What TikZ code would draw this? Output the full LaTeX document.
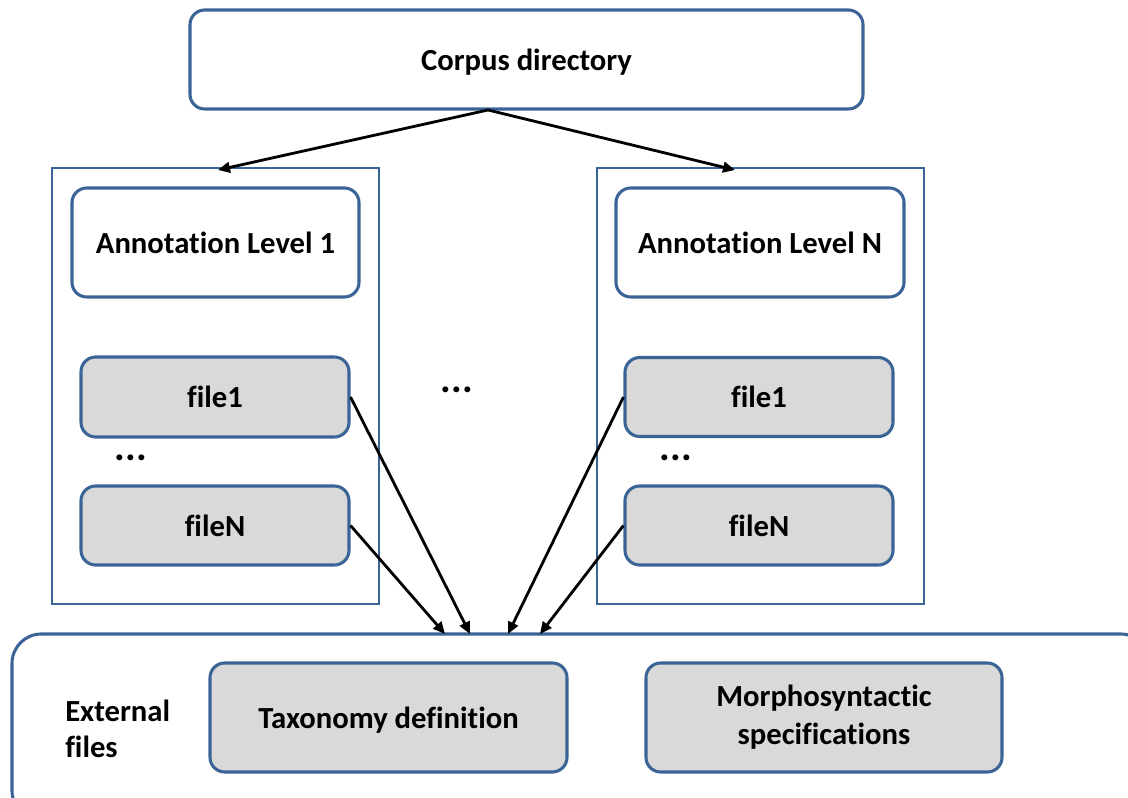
\documentclass[tikz,border=0pt]{standalone}
\usepackage{fontspec}
\setmainfont{Carlito}[Ligatures=NoCommon]
\usetikzlibrary{arrows.meta}
\definecolor{edge}{HTML}{3B6496}
\definecolor{shade}{HTML}{D9D9D9}
\tikzset{
  lbl/.style={font=\fontsize{23}{27}\selectfont\bfseries},
  rbox/.style={draw=edge, line width=2.3pt, rounded corners=11pt, fill=white,
    inner sep=0pt, align=center, text depth=0pt, lbl},
  filebox/.style={rbox, fill=shade},
  container/.style={draw=edge, line width=2.2pt, inner sep=0pt},
  link/.style={line width=2.1pt, -{Triangle[length=9pt,width=8pt]}},
  dots/.style={font=\fontsize{30}{30}\selectfont\bfseries}
}
\begin{document}
\begin{tikzpicture}[x=0.75pt, y=-0.75pt]
\useasboundingbox (0,0) rectangle (1128,798);

% corpus root
\node[rbox, minimum width=504.75pt, minimum height=74.25pt] (corpus) at (526.5,59.5) {Corpus directory};

% annotation level containers
\node[container, minimum width=245.25pt, minimum height=327pt] (lc) at (215.5,386) {};
\node[container, minimum width=245.25pt, minimum height=327pt] (rc) at (760.5,386) {};

\node[rbox, minimum width=215.25pt, minimum height=81.75pt] (al1) at (215.5,242.5) {Annotation Level 1};
\node[rbox, minimum width=216pt, minimum height=81.75pt] (aln) at (760,242.5) {Annotation Level N};

\node[filebox, minimum width=201pt, minimum height=60pt] (f1l) at (215,397) {file1};
\node[filebox, minimum width=201pt, minimum height=59.25pt] (fnl) at (215,525.5) {fileN};
\node[filebox, minimum width=201pt, minimum height=59.25pt] (f1r) at (759,397) {file1};
\node[filebox, minimum width=201pt, minimum height=59.25pt] (fnr) at (759,525.5) {fileN};

\node[dots] (d1) at (131,458) {...};
\node[dots] (d2) at (457,390) {...};
\node[dots] (d3) at (676,458) {...};

% external files
\node[rbox, rounded corners=22pt, minimum width=853.5pt, minimum height=139.5pt] (ext) at (581,727) {};
\node[font=\fontsize{23}{26.5}\selectfont\bfseries, align=left, anchor=west, inner sep=0pt] (extlabel) at (65,729) {External\\files};
\node[filebox, minimum width=267.75pt, minimum height=81.75pt] (tax) at (388.5,717.5) {Taxonomy definition};
\node[filebox, text depth=, minimum width=267pt, minimum height=81.75pt, font=\fontsize{23}{28.5}\selectfont\bfseries] (morph) at (824,717.5) {Morphosyntactic\\specifications};

% connector end points
\coordinate (src) at (488,110);
\coordinate (inL) at (218,170);
\coordinate (inR) at (735,170);
\coordinate (t1) at (445,634);
\coordinate (t2) at (470,634);
\coordinate (t3) at (508,634);
\coordinate (t4) at (540,634);

\draw[link] (src) -- (inL);
\draw[link] (src) -- (inR);
\draw[link] (f1l.east) -- (t2);
\draw[link] (fnl.east) -- (t1);
\draw[link] (f1r.west) -- (t3);
\draw[link] (fnr.west) -- (t4);
\end{tikzpicture}
\end{document}
